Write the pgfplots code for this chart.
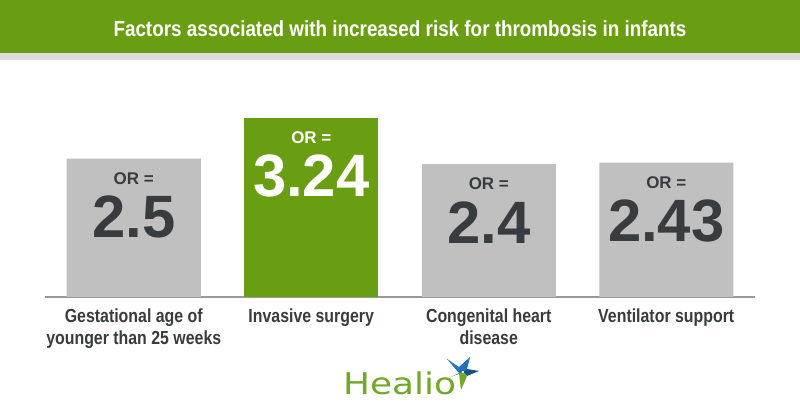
\documentclass[border=0pt]{standalone}
\usepackage{pgfplots}
\pgfplotsset{compat=1.18}
\usepackage{fontspec}
\setmainfont{Liberation Sans}
\newfontfamily\condt[FakeStretch=0.86]{Liberation Sans}
\newfontfamily\condl[FakeStretch=0.84]{Liberation Sans}
\newfontfamily\logofont[FakeStretch=1.2]{DejaVu Sans}
\definecolor{hgreen}{HTML}{6A9E12}
\definecolor{lgreen}{HTML}{72A82A}
\definecolor{hgray}{HTML}{C0C0C0}
\definecolor{dtext}{HTML}{383C3E}
\definecolor{stripe}{HTML}{DCDCDC}
\definecolor{hblue}{HTML}{2370B8}
\definecolor{dblue}{HTML}{1A4F8A}
\begin{document}
\begin{tikzpicture}
\fill[white] (0,0) rectangle (800bp,420bp);
\fill[hgreen] (0,367bp) rectangle (800bp,420bp);
\fill[stripe] (0,360bp) rectangle (800bp,367bp);
\node[text=white, font=\condt\bfseries\fontsize{22}{26}\selectfont] at (400bp,391bp) {Factors associated with increased risk for thrombosis in infants};
\begin{axis}[
  at={(45bp,123bp)}, anchor=south west, scale only axis,
  width=710bp, height=238bp,
  xmin=-0.5, xmax=3.5, ymin=0, ymax=4.3,
  axis y line=none, axis x line=bottom,
  x axis line style={draw=gray!80, line width=1.5bp, -},
  ytick=\empty, xtick={0,1,2,3},
  xticklabels={{Gestational age of\\younger than 25 weeks},{Invasive surgery},{Congenital heart\\disease},{Ventilator support}},
  major tick length=0pt,
  xticklabel style={font=\condl\bfseries\fontsize{19}{22}\selectfont, text=dtext, align=center, anchor=north, yshift=-8bp},
  ybar, bar width=134bp, bar shift=0pt, clip=false,
]
\addplot[fill=hgray, draw=none] coordinates {(0,2.5) (2,2.4) (3,2.43)};
\addplot[fill=hgreen, draw=none] coordinates {(1,3.24)};
\node[text=dtext, font=\bfseries\fontsize{17}{17}\selectfont] at ([yshift=-20bp]axis cs:0,2.5) {OR =};
\node[text=dtext, font=\bfseries\fontsize{60}{60}\selectfont] at ([yshift=-58bp]axis cs:0,2.5) {2.5};
\node[text=white, font=\bfseries\fontsize{17}{17}\selectfont] at ([yshift=-20bp]axis cs:1,3.24) {OR =};
\node[text=white, font=\bfseries\fontsize{60}{60}\selectfont] at ([yshift=-58bp]axis cs:1,3.24) {3.24};
\node[text=dtext, font=\bfseries\fontsize{17}{17}\selectfont] at ([yshift=-20bp]axis cs:2,2.4) {OR =};
\node[text=dtext, font=\bfseries\fontsize{60}{60}\selectfont] at ([yshift=-58bp]axis cs:2,2.4) {2.4};
\node[text=dtext, font=\bfseries\fontsize{17}{17}\selectfont] at ([yshift=-20bp]axis cs:3,2.43) {OR =};
\node[text=dtext, font=\bfseries\fontsize{60}{60}\selectfont] at ([yshift=-58bp]axis cs:3,2.43) {2.43};
\end{axis}
\node[text=lgreen, font=\logofont\fontsize{30}{30}\selectfont, anchor=base west, inner sep=0pt] at (343bp,26bp) {Healio};
% star
\fill[hblue] (463bp,48bp) -- (447bp,61bp) -- (459bp,53bp) -- (470bp,63bp) -- (467bp,51bp) -- cycle;
\fill[dblue] (463bp,48bp) -- (467bp,51bp) -- (479bp,49bp) -- (467bp,44bp) -- cycle;
\fill[hblue] (463bp,48bp) -- (447bp,61bp) -- (459bp,47bp) -- (451bp,43bp) -- cycle;
\fill[lgreen] (463bp,48bp) -- (467bp,44bp) -- (461bp,30bp) -- (459bp,47bp) -- cycle;
\fill[white] (463bp,48bp) circle (1.2bp);
\end{tikzpicture}
\end{document}
